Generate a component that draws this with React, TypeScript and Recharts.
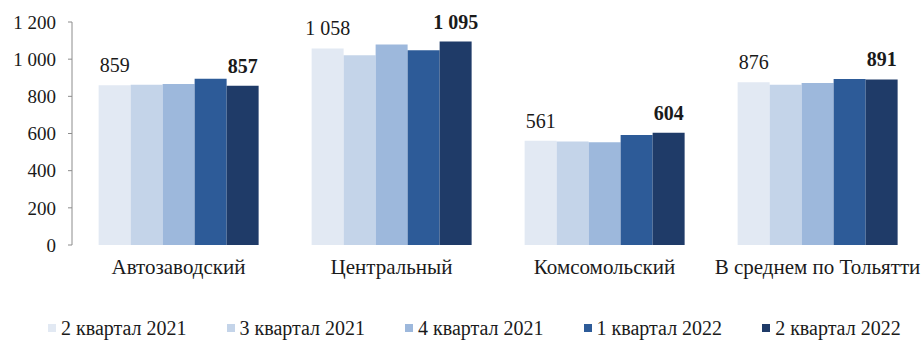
import { BarChart, Bar, XAxis, YAxis, Legend, LabelList } from "recharts";

const categories = ["Автозаводский", "Центральный", "Комсомольский", "В среднем по Тольятти"];
const q2_2021 = [859, 1058, 561, 876];
const q3_2021 = [862, 1021, 557, 862];
const q4_2021 = [866, 1079, 553, 872];
const q1_2022 = [895, 1048, 592, 893];
const q2_2022 = [857, 1095, 604, 891];
const seriesNames = ["2 квартал 2021", "3 квартал 2021", "4 квартал 2021", "1 квартал 2022", "2 квартал 2022"];
const yTicks = [0, 200, 400, 600, 800, 1000, 1200];
const boundaryTicks = [0, 1, 2, 3, 4];

const COLORS = ["#e2e9f3", "#c4d4e9", "#9db8dc", "#2d5b98", "#1f3b68"];
const FONT = "Liberation Serif";
const TEXT = "#1a1a1a";
const AXIS = "#8c8c8c";

// thousands separated by a no-break space so the label stays on one line
const fmtNum = (n: number) => {
  const s = String(Math.round(n));
  return s.length > 3 ? `${s.slice(0, s.length - 3)}\u00A0${s.slice(-3)}` : s;
};

const seriesData = [q2_2021, q3_2021, q4_2021, q1_2022, q2_2022];
const data = categories.map((name, i) => {
  const row: Record<string, string | number> = { name };
  seriesNames.forEach((s, k) => {
    row[`s${k}`] = seriesData[k][i];
  });
  return row;
});

function LegendBox() {
  return (
    <div
      style={{
        height: 50,
        display: "flex",
        alignItems: "center",
        paddingLeft: 48,
        paddingTop: 16,
        boxSizing: "border-box",
        fontFamily: FONT,
        fontSize: 20,
        color: TEXT,
      }}
    >
      {seriesNames.map((s, k) => (
        <div key={s} style={{ display: "flex", alignItems: "center", marginRight: 40 }}>
          <span style={{ width: 8, height: 8, background: COLORS[k], marginRight: 5, display: "inline-block" }} />
          <span style={{ whiteSpace: "nowrap" }}>{s}</span>
        </div>
      ))}
    </div>
  );
}

export default function App() {
  return (
    <div style={{ position: "absolute", left: 0, top: 0, width: 922, height: 345, background: "#fff" }}>
      <BarChart
        width={922}
        height={345}
        data={data}
        margin={{ top: 22, right: -2, left: 0, bottom: 0 }}
        barCategoryGap="12.5%"
        barGap={0}
      >
        <XAxis
          xAxisId="grid"
          type="number"
          domain={[0, 4]}
          ticks={boundaryTicks}
          allowDataOverflow
          height={0}
          stroke={AXIS}
          tickSize={5}
          tick={{ fontSize: 0 }}
          tickFormatter={() => ""}
        />
        <XAxis
          xAxisId="cat"
          dataKey="name"
          height={50}
          axisLine={false}
          tickLine={false}
          tickMargin={8}
          tick={{ fill: TEXT, fontSize: 21, fontFamily: FONT }}
          interval={0}
        />
        <YAxis
          domain={[0, 1200]}
          ticks={yTicks}
          width={72}
          stroke={AXIS}
          tickSize={4}
          tickMargin={12}
          tickFormatter={fmtNum}
          tick={{ fill: TEXT, fontSize: 19, fontFamily: FONT }}
        />
        <Legend verticalAlign="bottom" content={() => <LegendBox />} />
        {seriesNames.map((s, k) => (
          <Bar key={s} xAxisId="cat" dataKey={`s${k}`} name={s} fill={COLORS[k]} isAnimationActive={false}>
            {k === 0 && (
              <LabelList
                dataKey={`s${k}`}
                position="top"
                offset={13}
                formatter={(v: number) => fmtNum(v)}
                style={{ fill: TEXT, fontSize: 20, fontFamily: FONT }}
              />
            )}
            {k === 4 && (
              <LabelList
                dataKey={`s${k}`}
                position="top"
                offset={13}
                formatter={(v: number) => fmtNum(v)}
                style={{ fill: TEXT, fontSize: 20, fontFamily: FONT, fontWeight: 700 }}
              />
            )}
          </Bar>
        ))}
      </BarChart>
    </div>
  );
}
